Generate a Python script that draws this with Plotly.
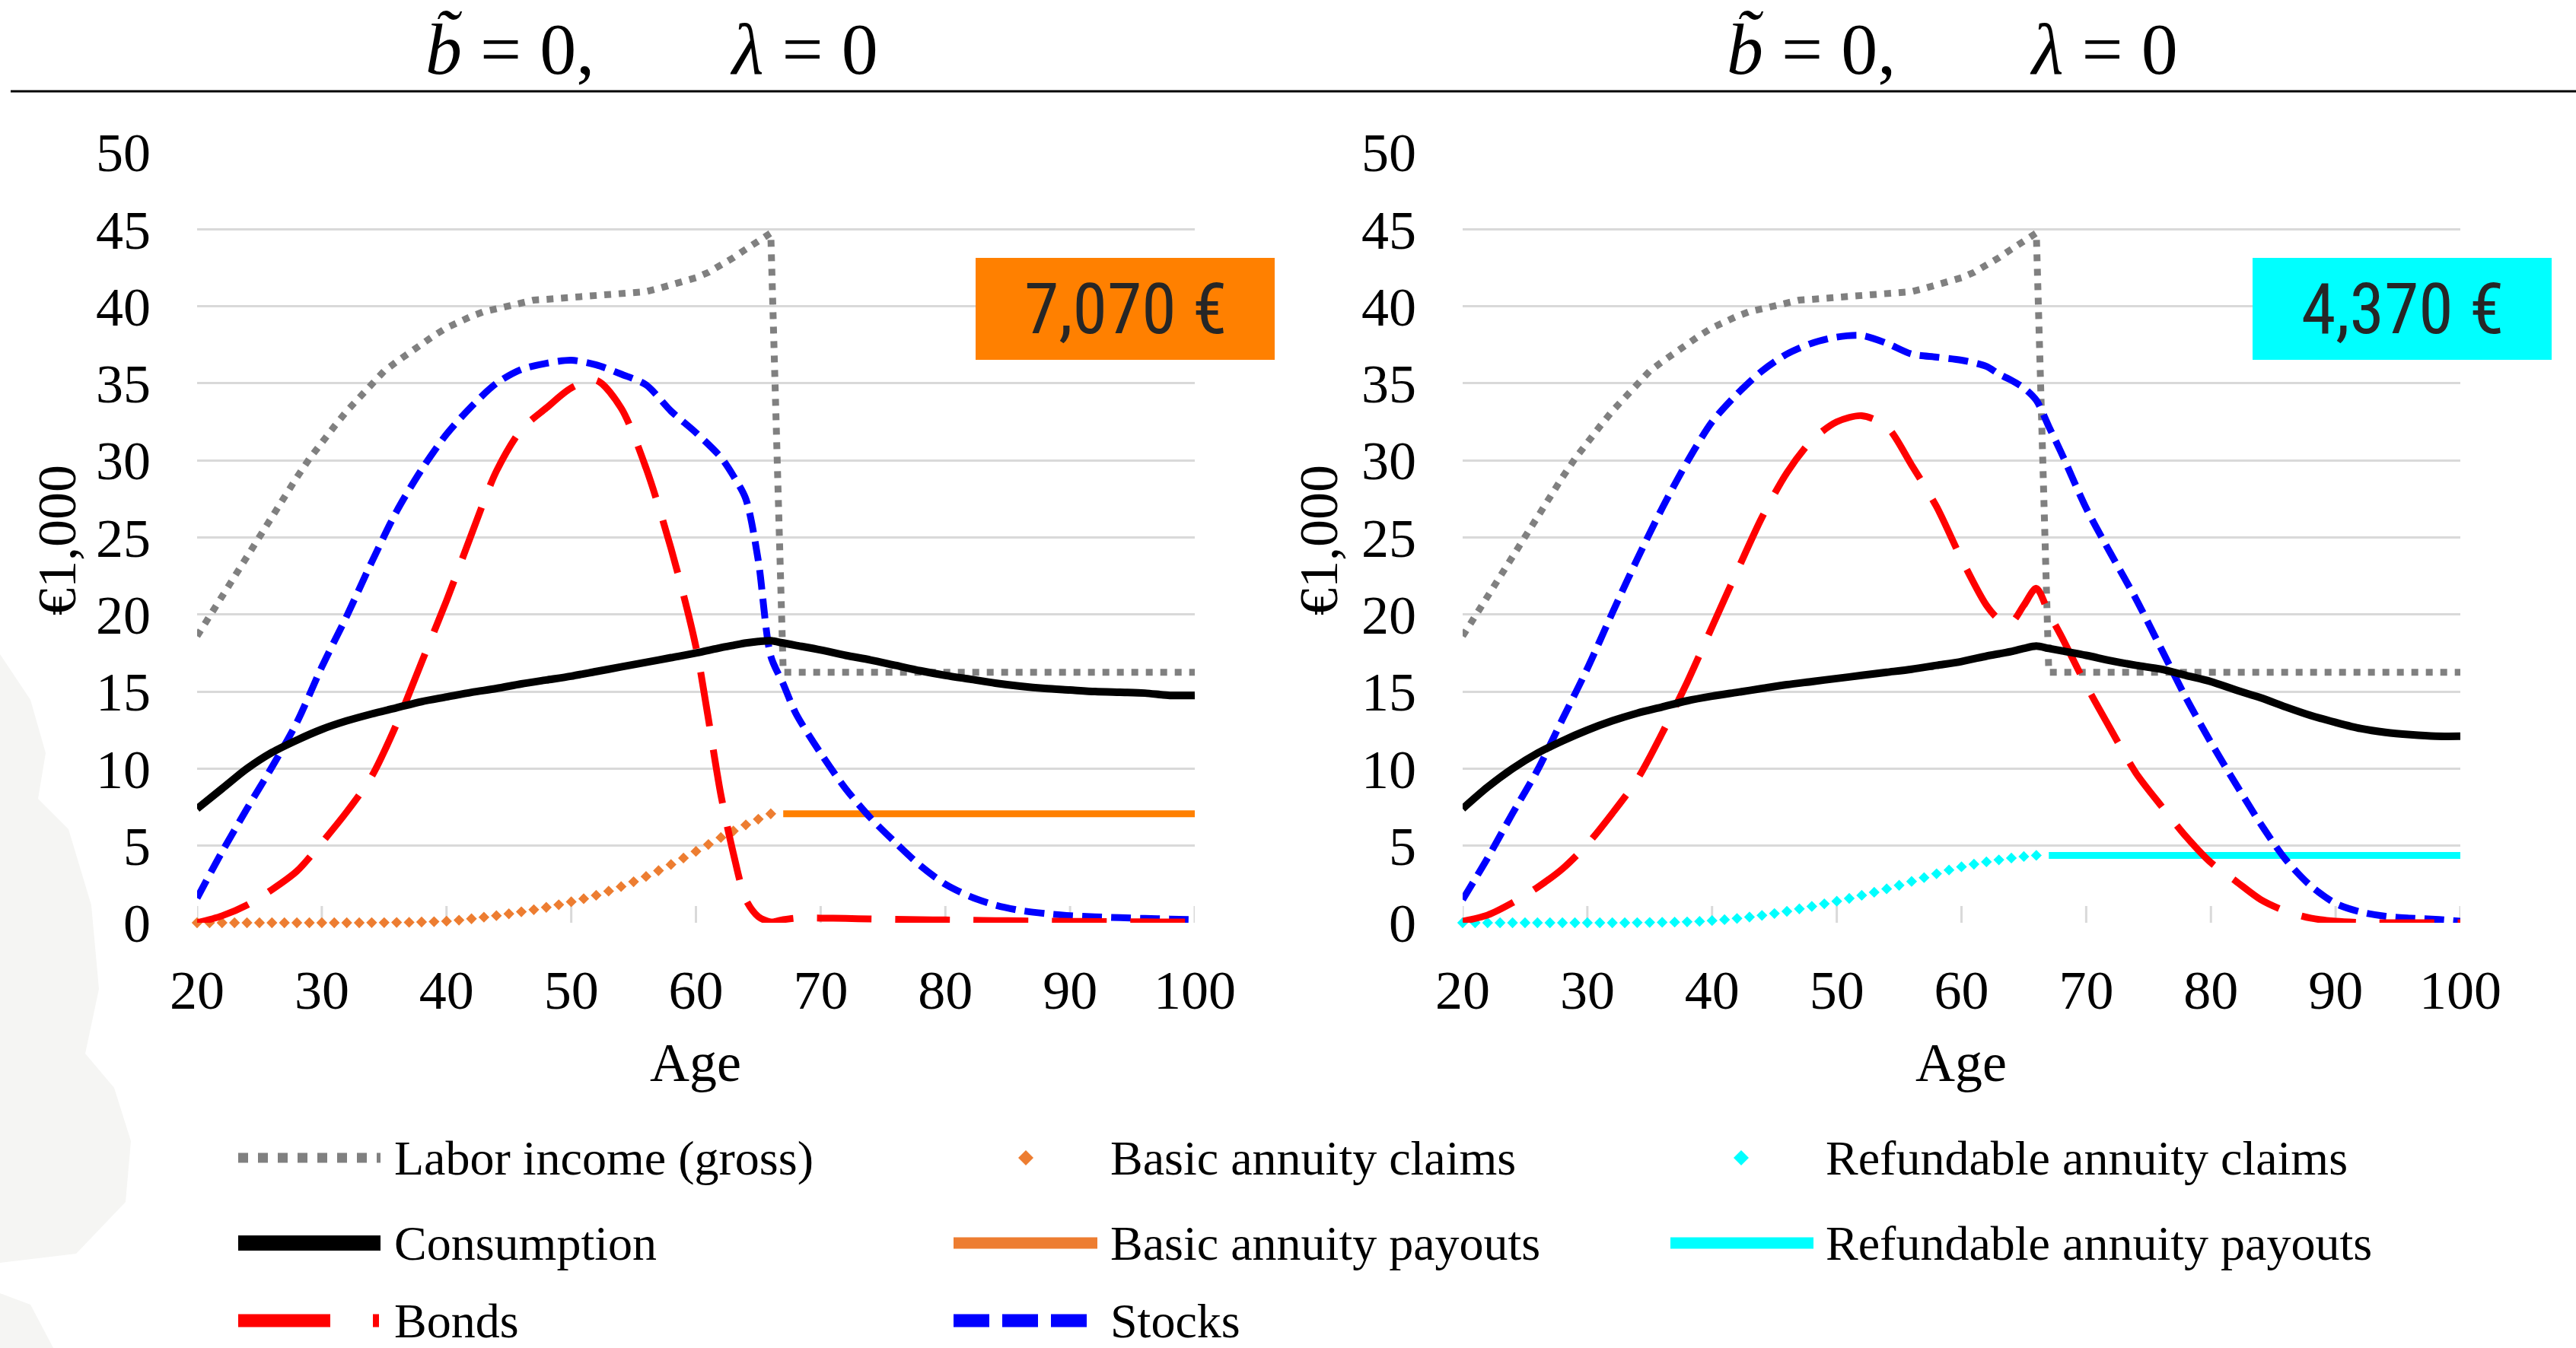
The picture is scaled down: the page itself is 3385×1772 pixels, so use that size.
import plotly.graph_objects as go

W, H = 3385, 1772

# ---------------- data ----------------
ages = [20, 22, 24, 26, 28, 30, 32, 34, 36, 38, 40, 42, 44, 46, 48, 50, 52, 54, 56, 58, 60,
        62, 63, 64, 65, 66, 67, 68, 70, 72, 74, 76, 78, 80, 82, 84, 86, 88, 90, 92, 94, 96, 98, 100]

labor_ages = list(range(20, 68)) + [100]
labor_income = [18.6, 19.9, 21.2, 22.5, 23.8, 25.1, 26.5, 27.7, 28.9, 30.1, 31.2, 32.2, 33.2, 34.1,
                35.0, 35.8, 36.4, 37.0, 37.6, 38.1, 38.6, 39.0, 39.35, 39.65, 39.85, 40.05, 40.25,
                40.4, 40.45, 40.5, 40.55, 40.6, 40.65, 40.7, 40.75, 40.85, 40.95, 41.15, 41.35,
                41.6, 41.85, 42.2, 42.65, 43.15, 43.7, 44.25, 44.75, 16.25, 16.25]

claim_ages = list(range(20, 67))
basic_claims = [0.0] * 14 + [0.01, 0.01, 0.02, 0.03, 0.05, 0.07, 0.1, 0.17, 0.26, 0.36, 0.46, 0.58,
                             0.71, 0.85, 1.0, 1.17, 1.36, 1.56, 1.78, 2.05, 2.35, 2.66, 3.0, 3.38,
                             3.78, 4.2, 4.63, 5.08, 5.53, 5.95, 6.35, 6.72, 7.07]
refund_claims = [0.0] * 14 + [0.01, 0.02, 0.03, 0.04, 0.06, 0.09, 0.14, 0.2, 0.28, 0.37, 0.48, 0.6,
                              0.74, 0.9, 1.06, 1.23, 1.4, 1.58, 1.78, 1.98, 2.2, 2.43, 2.68, 2.93,
                              3.18, 3.42, 3.63, 3.8, 3.95, 4.08, 4.2, 4.3, 4.37]

payout_ages = [67, 100]
basic_payout = [7.07, 7.07]
refund_payout = [4.37, 4.37]

cons_left = [7.4, 8.7, 10.0, 11.05, 11.85, 12.55, 13.1, 13.55, 13.95, 14.35, 14.65, 14.95, 15.2,
             15.5, 15.75, 16.0, 16.3, 16.6, 16.9, 17.2, 17.5, 17.85, 18.0, 18.15, 18.25, 18.3,
             18.15, 18.0, 17.7, 17.35, 17.05, 16.7, 16.35, 16.05, 15.8, 15.55, 15.35, 15.2, 15.1,
             15.0, 14.95, 14.9, 14.75, 14.75]
stocks_left = [1.6, 4.6, 7.4, 10.1, 13.0, 16.6, 19.9, 23.4, 26.7, 29.4, 31.7, 33.5, 35.0, 35.9,
               36.3, 36.5, 36.2, 35.6, 34.9, 33.2, 31.8, 30.2, 29.0, 27.5, 23.5, 17.3, 15.5, 13.6,
               11.0, 8.7, 6.8, 5.2, 3.7, 2.5, 1.7, 1.15, 0.8, 0.6, 0.46, 0.38, 0.33, 0.28, 0.24, 0.2]
bonds_left = [0.0, 0.45, 1.15, 2.15, 3.35, 5.2, 7.2, 9.5, 12.9, 16.9, 20.9, 25.2, 29.3, 32.0, 33.4,
              34.7, 35.2, 33.4, 29.5, 24.3, 17.9, 8.3, 4.5, 1.5, 0.4, 0.05, 0.2, 0.3, 0.3, 0.28,
              0.25, 0.22, 0.2, 0.18, 0.16, 0.14, 0.12, 0.1, 0.09, 0.08, 0.07, 0.06, 0.05, 0.05]

cons_right = [7.4, 8.8, 10.0, 11.0, 11.8, 12.5, 13.1, 13.6, 14.0, 14.4, 14.7, 14.95, 15.2, 15.45,
              15.65, 15.85, 16.05, 16.25, 16.45, 16.7, 16.95, 17.3, 17.45, 17.6, 17.8, 17.95,
              17.8, 17.65, 17.35, 17.0, 16.7, 16.45, 16.05, 15.65, 15.1, 14.6, 14.0, 13.45, 13.0,
              12.6, 12.35, 12.2, 12.1, 12.1]
stocks_right = [1.5, 4.2, 7.1, 9.9, 13.2, 16.5, 20.1, 23.6, 26.9, 29.9, 32.5, 34.3, 35.8, 36.9,
                37.6, 38.0, 38.1, 37.6, 36.9, 36.7, 36.5, 36.1, 35.6, 35.2, 34.7, 33.9, 32.2, 30.5,
                26.9, 23.9, 21.0, 17.8, 14.6, 11.7, 9.0, 6.4, 4.1, 2.4, 1.25, 0.7, 0.42, 0.3, 0.22, 0.1]
bonds_right = [0.1, 0.5, 1.3, 2.3, 3.5, 5.1, 7.1, 9.3, 12.3, 15.6, 19.2, 22.8, 26.3, 29.2, 31.3,
               32.5, 32.9, 32.2, 29.7, 27.0, 23.6, 20.6, 19.7, 19.5, 20.6, 21.7, 20.1, 18.6, 15.4,
               12.5, 9.7, 7.6, 5.6, 3.9, 2.7, 1.5, 0.75, 0.3, 0.1, 0.02, 0.0, 0.0, 0.0, 0.0]

x_ticks = [20, 30, 40, 50, 60, 70, 80, 90, 100]
y_ticks = [0, 5, 10, 15, 20, 25, 30, 35, 40, 45, 50]

box_labels = ["7,070 €", "4,370 €"]
legend_labels = ["Labor income (gross)", "Consumption", "Bonds",
                 "Basic annuity claims", "Basic annuity payouts", "Stocks",
                 "Refundable annuity claims", "Refundable annuity payouts"]

# ---------------- styles ----------------
GRAY = "#808080"
BLACK = "#000000"
RED = "#FF0000"
BLUE = "#0000FF"
ORANGE_M = "#ED7D31"
ORANGE = "#FF8000"
CYAN = "#00FFFF"
GRID = "#D9D9D9"
SERIF = "Liberation Serif, Times New Roman, serif"


def px(x):
    return x / W


def py(y):
    return 1 - y / H


fig = go.Figure()

panels = [
    dict(xa="x", ya="y", cons=cons_left, stocks=stocks_left, bonds=bonds_left,
         claims=basic_claims, payout=basic_payout, ccol=ORANGE_M, pcol=ORANGE),
    dict(xa="x2", ya="y2", cons=cons_right, stocks=stocks_right, bonds=bonds_right,
         claims=refund_claims, payout=refund_payout, ccol=CYAN, pcol=CYAN),
]

for p in panels:
    xa, ya = p["xa"], p["ya"]
    fig.add_trace(go.Scatter(x=labor_ages, y=labor_income, mode="lines", xaxis=xa, yaxis=ya,
                             line=dict(color=GRAY, width=9, dash="9px,10px"),
                             name=legend_labels[0]))
    fig.add_trace(go.Scatter(x=claim_ages, y=p["claims"], mode="markers", xaxis=xa, yaxis=ya,
                             marker=dict(symbol="diamond", size=11, color=p["ccol"]),
                             cliponaxis=False, name="claims"))
    fig.add_trace(go.Scatter(x=payout_ages, y=p["payout"], mode="lines", xaxis=xa, yaxis=ya,
                             line=dict(color=p["pcol"], width=9), name="payouts"))
    fig.add_trace(go.Scatter(x=ages, y=p["stocks"], mode="lines", xaxis=xa, yaxis=ya,
                             line=dict(color=BLUE, width=9, dash="26px,12px", shape="spline",
                                       smoothing=0.8), name=legend_labels[5]))
    fig.add_trace(go.Scatter(x=ages, y=p["bonds"], mode="lines", xaxis=xa, yaxis=ya,
                             line=dict(color=RED, width=9, dash="72px,31px", shape="spline",
                                       smoothing=0.8), name=legend_labels[2]))
    fig.add_trace(go.Scatter(x=ages, y=p["cons"], mode="lines", xaxis=xa, yaxis=ya,
                             line=dict(color=BLACK, width=10, shape="spline", smoothing=0.8),
                             name=legend_labels[1]))

ydom = [py(1213), py(200)]
axis_common = dict(range=[20, 100], tickvals=x_ticks, showgrid=False, zeroline=False,
                   showline=False, ticks="", tickfont=dict(family=SERIF, size=72, color="black"),
                   ticklabelstandoff=40, automargin=False, fixedrange=True)
yaxis_common = dict(range=[0, 50], tickvals=y_ticks, showgrid=True, gridcolor=GRID, gridwidth=2.5,
                    zeroline=False, showline=False, ticks="",
                    tickfont=dict(family=SERIF, size=72, color="black"),
                    ticklabelstandoff=60, automargin=False, fixedrange=True, domain=ydom)

fig.update_layout(
    width=W, height=H,
    margin=dict(l=0, r=0, t=0, b=0, pad=0),
    paper_bgcolor="white", plot_bgcolor="white",
    showlegend=False,
    xaxis=dict(domain=[px(259), px(1570)], anchor="y", **axis_common),
    yaxis=dict(anchor="x", **yaxis_common),
    xaxis2=dict(domain=[px(1922), px(3233)], anchor="y2", **axis_common),
    yaxis2=dict(anchor="x2", **yaxis_common),
)

shapes = []
annotations = []

# faint background watermark (bottom-left)
blob = [(0, 860), (40, 920), (60, 990), (50, 1050), (90, 1090), (120, 1190), (130, 1300),
        (112, 1385), (150, 1430), (172, 1500), (165, 1580), (100, 1648), (0, 1660)]
blob_path = "M " + " L ".join("{},{}".format(px(a), py(b)) for a, b in blob) + " Z"
shapes.append(dict(type="path", xref="paper", yref="paper", path=blob_path,
                   fillcolor="#F5F5F3", line=dict(width=0), layer="below"))
blob2 = [(0, 1700), (40, 1715), (70, 1772), (0, 1772)]
blob2_path = "M " + " L ".join("{},{}".format(px(a), py(b)) for a, b in blob2) + " Z"
shapes.append(dict(type="path", xref="paper", yref="paper", path=blob2_path,
                   fillcolor="#F5F5F3", line=dict(width=0), layer="below"))

# tick crosses on the x axis
for xr, yr in [("x", "y"), ("x2", "y2")]:
    for t in x_ticks:
        shapes.append(dict(type="line", xref=xr, yref=yr, x0=t, x1=t, ysizemode="pixel",
                           yanchor=0, y0=-22, y1=22, line=dict(color=GRID, width=3),
                           layer="below"))

# title underline
shapes.append(dict(type="line", xref="paper", yref="paper", x0=px(14), x1=1, y0=py(120),
                   y1=py(120), line=dict(color="black", width=3)))

# titles
for bx, lx in [(557, 957), (2267, 2665)]:
    annotations.append(dict(text="<i>b\u0303</i> = 0,", xref="paper", yref="paper", x=px(bx),
                            y=py(65), xanchor="left", yanchor="middle", showarrow=False,
                            font=dict(family=SERIF, size=96, color="black")))
    annotations.append(dict(text="<i>\u03bb</i> = 0", xref="paper", yref="paper", x=px(lx),
                            y=py(65), xanchor="left", yanchor="middle", showarrow=False,
                            font=dict(family=SERIF, size=96, color="black")))

# axis titles
for cx in [75, 1733]:
    annotations.append(dict(text="€1,000", xref="paper", yref="paper", x=px(cx), y=py(710),
                            xanchor="center", yanchor="middle", textangle=-90, showarrow=False,
                            font=dict(family=SERIF, size=72, color="black")))
for cx in [914, 2577]:
    annotations.append(dict(text="Age", xref="paper", yref="paper", x=px(cx), y=py(1397),
                            xanchor="center", yanchor="middle", showarrow=False,
                            font=dict(family=SERIF, size=72, color="black")))

# value boxes
for (x0, x1), col, lab in [((1282, 1675), ORANGE, box_labels[0]),
                           ((2960, 3353), CYAN, box_labels[1])]:
    shapes.append(dict(type="rect", xref="paper", yref="paper", x0=px(x0), x1=px(x1),
                       y0=py(473), y1=py(339), fillcolor=col, line=dict(width=0)))
    annotations.append(dict(text=lab, xref="paper", yref="paper", x=px((x0 + x1) / 2),
                            y=py(406), xanchor="center", yanchor="middle", showarrow=False,
                            font=dict(family="Liberation Sans Narrow, Arial Narrow, Roboto Condensed, Liberation Sans, sans-serif",
                                      size=92, color="#262626")))

# legend (drawn manually)
rows = [1522, 1634, 1736]
cols = [(313, 500, 516), (1253, 1442, 1457), (2195, 2383, 2397)]


def leg_line(c, r, color, width, dash="solid", x_end=None):
    x0, x1, _ = cols[c]
    if x_end is not None:
        x1 = x_end
    shapes.append(dict(type="line", xref="paper", yref="paper", x0=px(x0), x1=px(x1),
                       y0=py(rows[r]), y1=py(rows[r]), line=dict(color=color, width=width,
                                                                 dash=dash)))


def leg_diamond(cx, r, color, half=10):
    cy = rows[r]
    path = "M {},{} L {},{} L {},{} L {},{} Z".format(
        px(cx - half), py(cy), px(cx), py(cy - half), px(cx + half), py(cy), px(cx), py(cy + half))
    shapes.append(dict(type="path", xref="paper", yref="paper", path=path, fillcolor=color,
                       line=dict(width=0)))


leg_line(0, 0, GRAY, 13, "13px,13px")
leg_line(0, 1, BLACK, 20)
leg_line(0, 2, RED, 17, "121px,56px", x_end=498)
leg_diamond(1348, 0, ORANGE_M)
leg_line(1, 1, ORANGE_M, 15)
leg_line(1, 2, BLUE, 17, "47px,17px", x_end=1428)
leg_diamond(2288, 0, CYAN)
leg_line(2, 1, CYAN, 15)

leg_pos = [(0, 0), (0, 1), (0, 2), (1, 0), (1, 1), (1, 2), (2, 0), (2, 1)]
for lab, (c, r) in zip(legend_labels, leg_pos):
    annotations.append(dict(text=lab, xref="paper", yref="paper", x=px(cols[c][2]), y=py(rows[r]),
                            xanchor="left", yanchor="middle", showarrow=False,
                            font=dict(family=SERIF, size=64, color="black")))

fig.update_layout(shapes=shapes, annotations=annotations)

fig.write_html("out.html")
